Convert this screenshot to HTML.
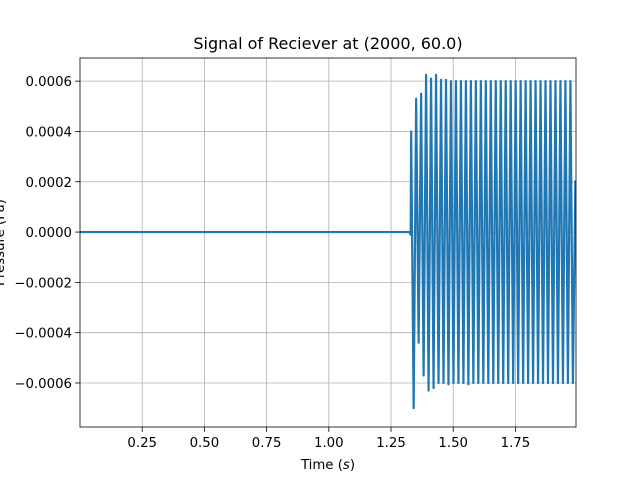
<!DOCTYPE html>
<html><head><meta charset="utf-8"><style>
body{margin:0;background:#fff}
svg text{font-family:"DejaVu Sans","Liberation Sans",sans-serif;fill:#000}
</style></head><body>
<svg id="c" width="640" height="480"></svg>
<script>
const xTicks=[0.25,0.5,0.75,1.0,1.25,1.5,1.75];
const xTickLabels=["0.25","0.50","0.75","1.00","1.25","1.50","1.75"];
const yTicks=[-0.0006,-0.0004,-0.0002,0,0.0002,0.0004,0.0006];
const yTickLabels=["\u22120.0006","\u22120.0004","\u22120.0002","0.0000","0.0002","0.0004","0.0006"];
const flatTimes=[0.0,1.325,1.329];
const flatValues=[0,0,-0.00001];
const peakStart=1.331;
const halfPeriod=0.01;
const peakValues=[4.0,-7.0,5.3,-4.4,5.5,-5.7,6.25,-6.3,6.1,-6.2,6.25,-6.0,6.05,-6.0,6.05,-6.05,6.0,-6.0,6.0,-6.0,6.0,-6.0,6.0,-6.05,6.0,-6.0,6.0,-6.0,6.0,-6.0,6.0,-6.0,6.0,-6.0,6.0,-6.0,6.0,-6.0,6.0,-6.0,6.0,-6.0,6.0,-6.0,6.0,-6.0,6.0,-6.0,6.0,-6.0,6.0,-6.0,6.0,-6.0,6.0,-6.0,6.0,-6.0,6.0,-6.0,6.0,-6.0,6.0,-6.0,6.0,-6.0,2.05];
const L=80,R=576,T=58,B=427,xmin=0.0,xmax=1.9935,ymin=-0.000775,ymax=0.000692;
const X=t=>L+(t-xmin)/(xmax-xmin)*(R-L);
const Y=v=>B-(v-ymin)/(ymax-ymin)*(B-T);
const svg=document.getElementById('c');const NS='http://www.w3.org/2000/svg';
function mk(tag,attrs,parent){const e=document.createElementNS(NS,tag);for(const k in attrs)e.setAttribute(k,attrs[k]);(parent||svg).appendChild(e);return e;}
let e;
xTicks.forEach((t,i)=>{
 e=mk('line',{x1:X(t),x2:X(t),y1:T,y2:B,stroke:'#b0b0b0','stroke-width':0.8});
 
 
 e=mk('line',{x1:X(t),x2:X(t),y1:B,y2:B+4.9,stroke:'#000','stroke-width':0.8});
 
 
 e=mk('text',{x:X(t),y:B+20,'text-anchor':'middle','font-size':'13.3'});e.textContent=xTickLabels[i];
 
 
});
yTicks.forEach((v,i)=>{
 e=mk('line',{x1:L-4.9,x2:L,y1:Y(v),y2:Y(v),stroke:'#000','stroke-width':0.8});
 
 
 e=mk('line',{x1:L,x2:R,y1:Y(v),y2:Y(v),stroke:'#b0b0b0','stroke-width':0.8});
 
 
 e=mk('text',{x:L-8,y:Y(v)+5,'text-anchor':'end','font-size':'13.3'});e.textContent=yTickLabels[i];
 
 
});
let pts=flatTimes.map((t,i)=>X(t)+','+Y(flatValues[i]));
peakValues.forEach((p,i)=>{pts.push(X(peakStart+i*halfPeriod)+','+Y(p*1e-4));});
mk('clipPath',{id:'cp'});
mk('rect',{x:L,y:T,width:R-L,height:B-T},svg.lastChild);
e=mk('polyline',{points:pts.join(' '),fill:'none',stroke:'#1f77b4','stroke-width':2.2,'clip-path':'url(#cp)','stroke-linejoin':'round'});


e=mk('rect',{x:L,y:T,width:R-L,height:B-T,fill:'none',stroke:'#000','stroke-width':0.8});


e=mk('text',{x:(L+R)/2,y:T-9,'text-anchor':'middle','font-size':'16'});e.textContent='Signal of Reciever at (2000, 60.0)';


e=mk('text',{x:(L+R)/2,y:469,'text-anchor':'middle','font-size':'13.3'});e.textContent='Time (';
const ts=mk('tspan',{'font-style':'italic'},e);ts.textContent='s';
const ts2=mk('tspan',{},e);ts2.textContent=')';


e=mk('text',{x:0,y:0,'text-anchor':'middle','font-size':'13.3',transform:'translate(4,'+((T+B)/2)+') rotate(-90)'});e.textContent='Pressure (Pa)';


</script>
</body></html>
